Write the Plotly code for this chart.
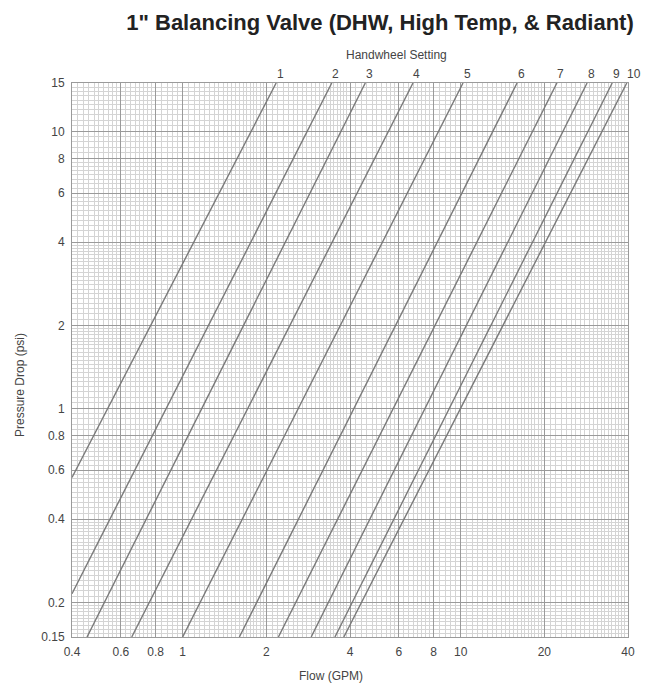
import numpy as np
import plotly.graph_objects as go

# ---- data ----
settings = ["1", "2", "3", "4", "5", "6", "7", "8", "9", "10"]
# each line: two end points (flow GPM, pressure drop psi)
flow_start = [0.4, 0.4, 0.453, 0.656, 1.0, 1.6, 2.21, 2.9, 3.53, 3.8]
dp_start = [0.565, 0.215, 0.15, 0.15, 0.15, 0.15, 0.15, 0.15, 0.15, 0.15]
flow_end = [2.17, 3.44, 4.54, 6.74, 10.2, 15.96, 22.2, 28.5, 35.1, 39.6]
dp_end = [15, 15, 15, 15, 15, 15, 15, 15, 15, 15]

x_ticks = [0.4, 0.6, 0.8, 1, 2, 4, 6, 8, 10, 20, 40]
y_ticks = [0.15, 0.2, 0.4, 0.6, 0.8, 1, 2, 4, 6, 8, 10, 15]

# ---- grid subdivision (styling) ----
def subdiv(bounds, steps):
    vals = []
    for (a, b), s in zip(zip(bounds[:-1], bounds[1:]), steps):
        n = int(round((b - a) / s))
        vals += [a + i * s for i in range(1, n)]
    return vals

x_minor = subdiv(x_ticks, [0.02, 0.025, 0.04, 0.05, 0.1, 0.2, 0.25, 0.4, 0.5, 1])
y_minor = subdiv(y_ticks, [0.005, 0.01, 0.02, 0.025, 0.04, 0.05, 0.1, 0.2, 0.25, 0.4, 0.5])

FONT = "Liberation Sans, Arial, sans-serif"
PW, PH = 556, 554  # plot area size in px

fig = go.Figure()
for i, s in enumerate(settings):
    fig.add_trace(go.Scatter(
        x=[flow_start[i], flow_end[i]], y=[dp_start[i], dp_end[i]],
        mode="lines", line=dict(color="#7a7a7a", width=1.4),
        name=s, showlegend=False, hoverinfo="skip"))

for i, s in enumerate(settings):
    fig.add_annotation(x=np.log10(flow_end[i]), y=1, xref="x", yref="paper",
                       text=s, showarrow=False, yanchor="bottom",
                       xshift=4 if s != "10" else 7, yshift=0,
                       font=dict(family=FONT, size=12, color="#444"))

fig.add_annotation(x=(441 - 64) / PW, y=1 + 28 / PH, xref="paper", yref="paper",
                   text="Handwheel Setting", showarrow=False, yanchor="middle",
                   font=dict(family=FONT, size=12, color="#444"))
fig.add_annotation(x=(323 - 64) / PW, y=-39 / PH, xref="paper", yref="paper",
                   text="Flow (GPM)", showarrow=False, yanchor="middle",
                   font=dict(family=FONT, size=12, color="#444"))
fig.add_annotation(x=-52 / PW, y=(629 - 377) / PH, xref="paper", yref="paper",
                   text="Pressure Drop (psi)", showarrow=False, textangle=-90,
                   xanchor="center", yanchor="middle",
                   font=dict(family=FONT, size=12, color="#444"))

fig.update_layout(
    width=650, height=684,
    margin=dict(l=64, r=30, t=75, b=55),
    paper_bgcolor="white", plot_bgcolor="white",
    title=dict(text="<b>1\" Balancing Valve (DHW, High Temp, &amp; Radiant)</b>",
               x=372 / 650, xanchor="center", y=1 - 14 / 684, yanchor="middle",
               font=dict(family=FONT, size=22, color="#222")),
    font=dict(family=FONT, size=12, color="#444"),
)

fig.update_xaxes(type="log", range=[np.log10(0.4), np.log10(40)],
                 tickvals=x_ticks, ticktext=[f"{v:g}" for v in x_ticks],
                 showgrid=True, gridcolor="#9a9a9a", gridwidth=1,
                 minor=dict(tickvals=x_minor, showgrid=True, gridcolor="#d4d4d4", gridwidth=1),
                 showline=True, linecolor="#9a9a9a", mirror=True, zeroline=False,
                 ticks="", ticklabelstandoff=4)
fig.update_yaxes(type="log", range=[np.log10(0.15), np.log10(15)],
                 tickvals=y_ticks, ticktext=[f"{v:g}" for v in y_ticks],
                 showgrid=True, gridcolor="#9a9a9a", gridwidth=1,
                 minor=dict(tickvals=y_minor, showgrid=True, gridcolor="#d4d4d4", gridwidth=1),
                 showline=True, linecolor="#9a9a9a", mirror=True, zeroline=False,
                 ticks="", ticklabelstandoff=4)

fig.write_html("out.html")
